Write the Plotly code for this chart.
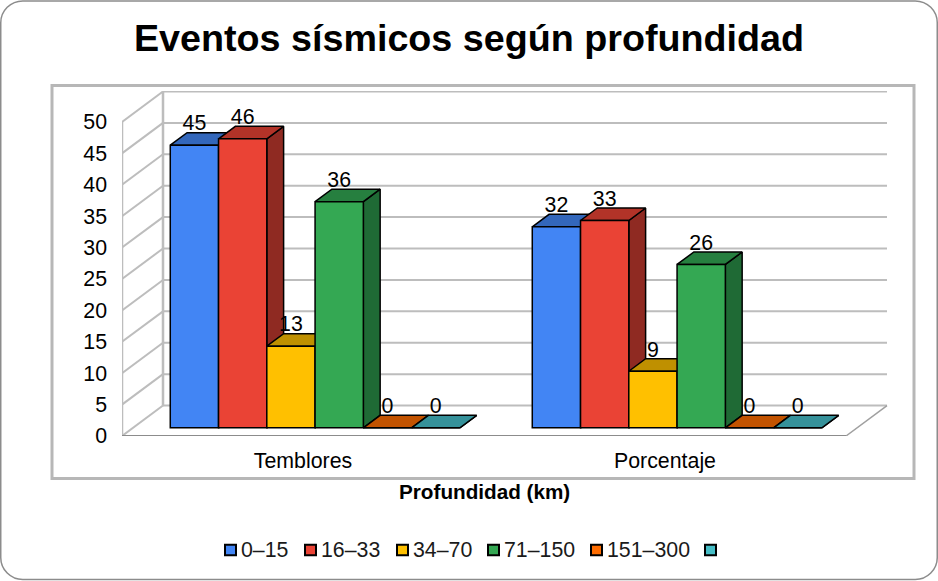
import plotly.graph_objects as go

# Data
categories = ["Temblores", "Porcentaje"]
series_names = ["0–15", "16–33", "34–70", "71–150", "151–300", ""]
v_0_15 = [45, 32]
v_16_33 = [46, 33]
v_34_70 = [13, 9]
v_71_150 = [36, 26]
v_151_300 = [0, 0]
v_blank = [0, 0]
series_values = [v_0_15, v_16_33, v_34_70, v_71_150, v_151_300, v_blank]
y_ticks = list(range(0, 55, 5))

# Colours
front_colors = ["#4285F4", "#EA4335", "#FFC000", "#34A853", "#FF6D01", "#46BDC6"]
top_colors = ["#3367BB", "#B23328", "#BF9000", "#267F3F", "#C25300", "#35919A"]
side_colors = ["#274F91", "#8F2A22", "#997300", "#1F6A35", "#9A4200", "#2A7278"]
GRID = "#BDBDBD"
FONT = "Liberation Sans, Arial, sans-serif"
TEXT_SIZE = 21.33

# Figure and plot-area geometry
W, H = 938, 581
L, R, T, B = 122, 888, 91, 436.5
CAT_PX = 362.0
VAL_PX = 6.29
X0_PX = 303.0

# Oblique projection: depth 0 is the front plane, depth 1 the back wall
WALL_DX = 41 / CAT_PX
WALL_DY = 30.5 / VAL_PX
BAR_FRONT = 0.27
BAR_BACK = 0.68
BAR_W = 1 / 7.5
BAR_NUDGE = 1 / CAT_PX
x_range = [(L - X0_PX) / CAT_PX, (R - X0_PX) / CAT_PX]
y_range = [0, (B - T) / VAL_PX]
X_MIN = x_range[0]
X_MAX = X_MIN + 2


def project(x, v, depth):
    return x + WALL_DX * depth, v + WALL_DY * depth


def px(x, y):
    return (x - L) / (R - L), (B - y) / (B - T)


fig = go.Figure()
z = 0


def add_segments(segments, color, width):
    global z
    xs, ys = [], []
    for (x1, y1), (x2, y2) in segments:
        xs += [x1, x2, None]
        ys += [y1, y2, None]
    z += 1
    fig.add_trace(go.Scatter(x=xs, y=ys, mode="lines", cliponaxis=False, zorder=z,
                             line=dict(color=color, width=width),
                             showlegend=False, hoverinfo="skip"))


# Walls and floor
back_grid = [(project(X_MIN, t, 1), project(X_MAX, t, 1)) for t in y_ticks]
side_grid = [(project(X_MIN, t, 0), project(X_MIN, t, 1)) for t in y_ticks]
edges = [(project(X_MIN, 0, 0), project(X_MIN, y_ticks[-1], 0)),
         (project(X_MIN, 0, 1), project(X_MIN, y_ticks[-1], 1))]
add_segments(back_grid + side_grid, GRID, 2)
add_segments(edges, GRID, 2.5)
add_segments([(project(X_MAX, 0, 0), project(X_MAX, 0, 1))], "#A0A0A0", 1.5)
add_segments([(project(X_MIN, 0, 0), project(X_MAX, 0, 0))], "#8C8C8C", 2)

# Bars, drawn left to right so that each one overlaps its neighbour's faces
base_value = project(0, 0, BAR_FRONT)[1]
label_lift = 20 / VAL_PX
label_x, label_y, label_text = [], [], []
for i, values in enumerate(series_values):
    bar_x, side_x, side_y, top_x, top_y = [], [], [], [], []
    for c, v in enumerate(values):
        left = c - 3 * BAR_W + i * BAR_W + BAR_NUDGE
        right = left + BAR_W
        fx_l, fy_b = project(left, 0, BAR_FRONT)
        fx_r, fy_t = project(right, v, BAR_FRONT)
        bx_l, by_t = project(left, v, BAR_BACK)
        bx_r, by_b = project(right, 0, BAR_BACK)
        side_x += [fx_r, bx_r, bx_r, fx_r, fx_r, None]
        side_y += [fy_b, by_b, by_t, fy_t, fy_b, None]
        top_x += [fx_l, fx_r, bx_r, bx_l, fx_l, None]
        top_y += [fy_t, fy_t, by_t, by_t, fy_t, None]
        bar_x.append((fx_l + fx_r) / 2)
        label_x.append((fx_l + fx_r) / 2)
        label_y.append(fy_t + label_lift)
        label_text.append(str(v))
    for xs, ys, color in ((side_x, side_y, side_colors[i]), (top_x, top_y, top_colors[i])):
        z += 1
        fig.add_trace(go.Scatter(x=xs, y=ys, mode="lines", fill="toself", fillcolor=color,
                                 line=dict(color="#000000", width=1.5), cliponaxis=False,
                                 zorder=z, showlegend=False, hoverinfo="skip"))
    z += 1
    fig.add_trace(go.Bar(x=bar_x, y=values, base=base_value, width=BAR_W, name=series_names[i],
                         marker=dict(color=front_colors[i], line=dict(color="#000000", width=1.5)),
                         zorder=z, showlegend=False))

# Value labels above the bars
z += 1
fig.add_trace(go.Scatter(x=label_x, y=label_y, text=label_text, mode="text", cliponaxis=False,
                         textposition="middle center", zorder=z,
                         textfont=dict(family=FONT, size=TEXT_SIZE, color="#000000"),
                         showlegend=False, hoverinfo="skip"))

# Outer rounded card and inner frame
RAD = 22
x1, y1, x2, y2 = 0.75, 0.75, W - 0.75, H - 0.75


def path_pt(x, y):
    a, b = px(x, y)
    return f"{a:.5f},{b:.5f}"


K = RAD * 0.45
card = (f"M{path_pt(x1 + RAD, y1)} L{path_pt(x2 - RAD, y1)} "
        f"C{path_pt(x2 - K, y1)} {path_pt(x2, y1 + K)} {path_pt(x2, y1 + RAD)} "
        f"L{path_pt(x2, y2 - RAD)} "
        f"C{path_pt(x2, y2 - K)} {path_pt(x2 - K, y2)} {path_pt(x2 - RAD, y2)} "
        f"L{path_pt(x1 + RAD, y2)} "
        f"C{path_pt(x1 + K, y2)} {path_pt(x1, y2 - K)} {path_pt(x1, y2 - RAD)} "
        f"L{path_pt(x1, y1 + RAD)} "
        f"C{path_pt(x1, y1 + K)} {path_pt(x1 + K, y1)} {path_pt(x1 + RAD, y1)} Z")
shapes = [dict(type="path", xref="paper", yref="paper", path=card, layer="below",
               line=dict(color="#8C8C8C", width=1.5))]
fa, fb = px(52, 85.5)
fc, fd = px(914, 479)
shapes.append(dict(type="rect", xref="paper", yref="paper", x0=fa, y0=fb, x1=fc, y1=fd,
                   layer="below", line=dict(color="#B7B7B7", width=3)))

# Legend row
annotations = []
swatch_left = [225, 305, 397, 488, 591, 705]
legend_colors = ["#4285F4", "#EA4335", "#FFC000", "#34A853", "#FF6D01", "#46BDC6"]
for sx, name, color in zip(swatch_left, series_names, legend_colors):
    a, b = px(sx, 545.5)
    c, d = px(sx + 11, 556)
    shapes.append(dict(type="rect", xref="paper", yref="paper", x0=a, y0=b, x1=c, y1=d,
                       fillcolor=color, line=dict(color="#000000", width=2)))
    if name:
        tx, ty = px(sx + 14, 550.5)
        annotations.append(dict(xref="paper", yref="paper", x=tx, y=ty, text=name,
                                showarrow=False, xanchor="left", yanchor="middle",
                                font=dict(family=FONT, size=TEXT_SIZE, color="#1A1A1A")))

# Axis title
ax, ay = px(484.5, 492)
annotations.append(dict(xref="paper", yref="paper", x=ax, y=ay, text="<b>Profundidad (km)</b>",
                        showarrow=False, xanchor="center", yanchor="middle",
                        font=dict(family=FONT, size=20.7, color="#000000")))

fig.update_layout(
    width=W, height=H,
    margin=dict(l=L, r=W - R, t=T, b=H - B, pad=0),
    paper_bgcolor="white", plot_bgcolor="rgba(0,0,0,0)",
    showlegend=False, shapes=shapes, annotations=annotations,
    title=dict(text="<b>Eventos sísmicos según profundidad</b>", x=0.5, xanchor="center",
               y=1 - 38 / H, yanchor="middle", font=dict(family=FONT, size=37.7, color="#000000")),
    xaxis=dict(range=x_range, tickmode="array", tickvals=[0, 1], ticktext=categories,
               showgrid=False, zeroline=False, showline=False, ticks="", ticklabelstandoff=10,
               tickfont=dict(family=FONT, size=TEXT_SIZE, color="#000000")),
    yaxis=dict(range=y_range, tickmode="array", tickvals=y_ticks, showgrid=False, zeroline=False,
               showline=False, ticks="", ticklabelstandoff=14,
               tickfont=dict(family=FONT, size=TEXT_SIZE, color="#000000")),
)

fig.write_html("out.html", config={"displayModeBar": False})
